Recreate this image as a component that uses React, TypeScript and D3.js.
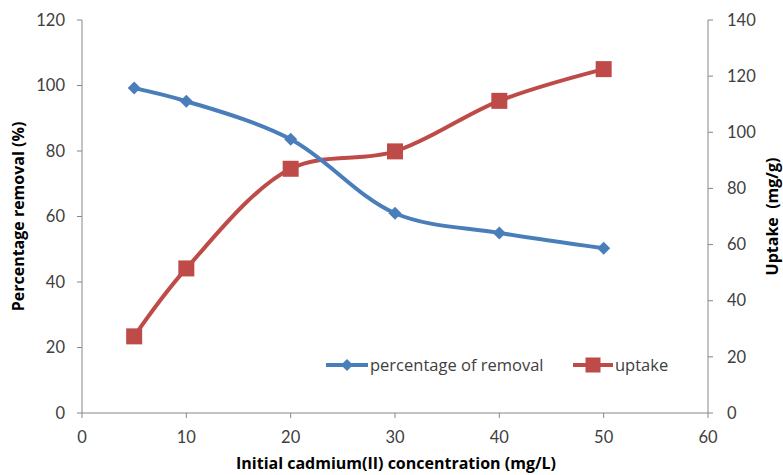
import React from 'react';
import * as d3 from 'd3';

// concentrations (mg/L)
const concentrations = [5, 10, 20, 30, 40, 50];
// percentage of removal (%)
const removalValues = [99.2, 95.2, 83.6, 61, 55, 50.3];
// uptake (mg/g)
const uptakeValues = [27.3, 51.5, 87, 93.2, 111.2, 122.5];

const xTicks = [0, 10, 20, 30, 40, 50, 60];
const leftTicks = [0, 20, 40, 60, 80, 100, 120];
const rightTicks = [0, 20, 40, 60, 80, 100, 120, 140];

const seriesNames = ['percentage of removal', 'uptake'];
const colors = ['#4a7ebb', '#be4b48'];

const W = 783;
const H = 475;
const margin = { top: 20, right: 75, bottom: 62, left: 82 };
const font = 'Lato, "Liberation Sans", sans-serif';
const titleFont = '"Open Sans", Lato, sans-serif';
const axisColor = '#878787';
const textColor = '#404040';

const App = () => {
    const x = d3.scaleLinear().domain([0, 60]).range([margin.left, W - margin.right]);
    const yL = d3.scaleLinear().domain([0, 120]).range([H - margin.bottom, margin.top]);
    const yR = d3.scaleLinear().domain([0, 140]).range([H - margin.bottom, margin.top]);

    const line = (ys: number[], scale: d3.ScaleLinear<number, number>) =>
        d3.line<number>()
            .x((_, i) => x(concentrations[i]))
            .y(d => scale(d))
            .curve(d3.curveCatmullRom.alpha(0.5))(ys) || '';

    const bottom = H - margin.bottom;
    const diamond = (cx: number, cy: number, r = 6.5) =>
        `M${cx},${cy - r}L${cx + r},${cy}L${cx},${cy + r}L${cx - r},${cy}Z`;

    return (
        <svg width={W} height={H} style={{ position: 'absolute', left: 0, top: 0, background: '#fff' }}>
            {/* X axis */}
            <line x1={x(0)} x2={x(60)} y1={bottom} y2={bottom} stroke={axisColor} strokeWidth={1} />
            {xTicks.map(t => (
                <g key={'x' + t}>
                    <line x1={x(t)} x2={x(t)} y1={bottom} y2={bottom + 5} stroke={axisColor} />
                    <text x={x(t)} y={bottom + 30} textAnchor="middle" fontSize={16.5} fontFamily={font} fill={textColor}>{t}</text>
                </g>
            ))}

            {/* left Y axis */}
            <line x1={x(0)} x2={x(0)} y1={yL(0)} y2={yL(120)} stroke={axisColor} />
            {leftTicks.map(t => (
                <g key={'l' + t}>
                    <line x1={x(0) - 5} x2={x(0)} y1={yL(t)} y2={yL(t)} stroke={axisColor} />
                    <text x={x(0) - 17} y={yL(t)} dy="0.35em" textAnchor="end" fontSize={16.5} fontFamily={font} fill={textColor}>{t}</text>
                </g>
            ))}

            {/* right Y axis */}
            <line x1={x(60)} x2={x(60)} y1={yR(0)} y2={yR(140)} stroke={axisColor} />
            {rightTicks.map(t => (
                <g key={'r' + t}>
                    <line x1={x(60)} x2={x(60) + 5} y1={yR(t)} y2={yR(t)} stroke={axisColor} />
                    <text x={x(60) + 19} y={yR(t)} dy="0.35em" textAnchor="start" fontSize={16.5} fontFamily={font} fill={textColor}>{t}</text>
                </g>
            ))}

            {/* axis titles */}
            <text x={396} y={469} textAnchor="middle" fontSize={16} fontWeight="bold" fontFamily={titleFont} fill="#000">
                Initial cadmium(II) concentration (mg/L)
            </text>
            <text transform={`translate(24,${(yL(0) + yL(120)) / 2}) rotate(-90)`} textAnchor="middle" fontSize={16} fontWeight="bold" fontFamily={titleFont} fill="#000">
                Percentage removal (%)
            </text>
            <text transform={`translate(778,${(yL(0) + yL(120)) / 2}) rotate(-90)`} textAnchor="middle" fontSize={16} fontWeight="bold" fontFamily={titleFont} fill="#000" xmlSpace="preserve">
                Uptake  (mg/g)
            </text>

            {/* uptake series */}
            <path d={line(uptakeValues, yR)} fill="none" stroke={colors[1]} strokeWidth={4} />
            {uptakeValues.map((v, i) => (
                <rect key={'u' + i} x={x(concentrations[i]) - 8} y={yR(v) - 8} width={16} height={16} fill={colors[1]} />
            ))}

            {/* removal series */}
            <path d={line(removalValues, yL)} fill="none" stroke={colors[0]} strokeWidth={4} />
            {removalValues.map((v, i) => (
                <path key={'p' + i} d={diamond(x(concentrations[i]), yL(v))} fill={colors[0]} />
            ))}

            {/* legend */}
            <g fontFamily={titleFont} fontSize={16.5} fill={textColor}>
                <line x1={326} x2={368} y1={365} y2={365} stroke={colors[0]} strokeWidth={4} />
                <path d={diamond(347, 365, 6)} fill={colors[0]} />
                <text x={370} y={365} dy="0.35em">{seriesNames[0]}</text>
                <line x1={573} x2={613} y1={365} y2={365} stroke={colors[1]} strokeWidth={4} />
                <rect x={585.5} y={357.5} width={15} height={15} fill={colors[1]} />
                <text x={615} y={365} dy="0.35em">{seriesNames[1]}</text>
            </g>
        </svg>
    );
};

export default App;
